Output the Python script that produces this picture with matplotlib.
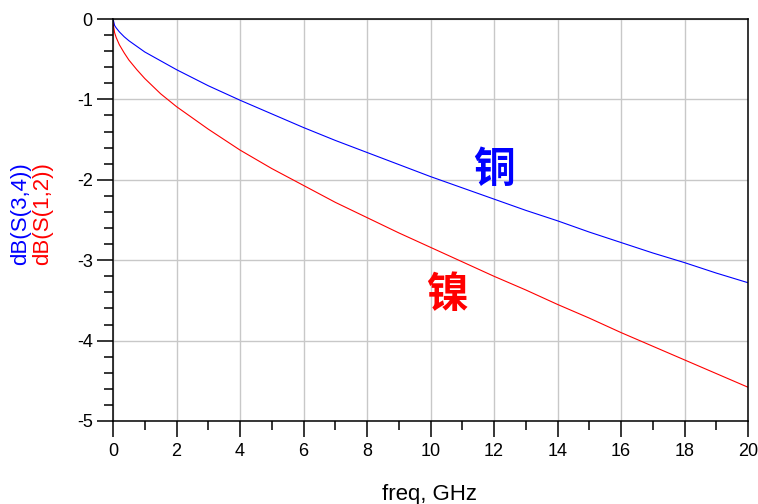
import matplotlib.pyplot as plt
import numpy as np

plt.rcParams['font.family'] = ['Liberation Sans', 'DejaVu Sans']
plt.rcParams['axes.unicode_minus'] = False

# frequency points (GHz) and S-parameter magnitudes (dB)
freq = [0, 0.05, 0.1, 0.2, 0.35, 0.5, 0.75, 1, 1.5, 2, 3, 4, 5, 6, 7, 8, 9, 10,
        11, 12, 13, 14, 15, 16, 17, 18, 19, 20]
s34_copper = [0, -0.08, -0.11, -0.16, -0.22, -0.27, -0.34, -0.41, -0.52, -0.63,
              -0.83, -1.01, -1.18, -1.35, -1.51, -1.66, -1.81, -1.96, -2.10, -2.24,
              -2.38, -2.51, -2.65, -2.78, -2.91, -3.03, -3.16, -3.28]
s12_nickel = [-0.05, -0.17, -0.23, -0.32, -0.42, -0.51, -0.63, -0.74, -0.93, -1.09,
              -1.37, -1.63, -1.86, -2.07, -2.28, -2.47, -2.66, -2.84, -3.02, -3.20,
              -3.37, -3.55, -3.72, -3.90, -4.07, -4.24, -4.41, -4.58]

xticks = list(range(0, 21, 2))
yticks = [0, -1, -2, -3, -4, -5]

fig = plt.figure(figsize=(7.58, 5.04), dpi=100)
ax = fig.add_axes([113 / 758, 1 - 421 / 504, 635 / 758, 402 / 504])

ax.plot(freq, s34_copper, color='#0000ff', linewidth=0.8)
ax.plot(freq, s12_nickel, color='#ff0000', linewidth=0.8)

ax.set_xlim(0, 20)
ax.set_ylim(-5, 0)
ax.set_xticks(xticks)
ax.set_yticks(yticks)
ax.set_xticks(np.arange(0, 21, 1), minor=True)
ax.set_yticks(np.arange(-5, 0.01, 0.2), minor=True)
ax.set_yticklabels([str(v) for v in yticks])

ax.grid(True, which='major', color='#c8c8c8', linewidth=1.0)
ax.tick_params(which='major', direction='out', length=11.5, width=1.1,
               labelsize=13, pad=3)
ax.tick_params(which='minor', direction='out', length=6.5, width=1.1)
ax.tick_params(axis='x', which='major', pad=4)
for s in ax.spines.values():
    s.set_linewidth(1.1)

# x label (partly cut at the bottom edge, as in the original)
fig.text(429 / 758, 1 - 500 / 504, 'freq, GHz', fontsize=16,
         ha='center', va='baseline')

# two-colour y label
fig.text(21 / 758, 1 - 214 / 504, 'dB(S(3,4))', color='#0000ff', rotation=90,
         ha='center', va='center', fontsize=16)
fig.text(43 / 758, 1 - 214 / 504, 'dB(S(1,2))', color='#ff0000', rotation=90,
         ha='center', va='center', fontsize=16)

cjk = ['Noto Sans CJK SC', 'DejaVu Sans']
ax.text(12.0, -1.88, '铜', color='#0000ff', fontsize=30, fontweight='bold',
        family=cjk, ha='center', va='center')
ax.text(10.52, -3.43, '镍', color='#ff0000', fontsize=30, fontweight='bold',
        family=cjk, ha='center', va='center')

fig.savefig('out.png', dpi=100)
